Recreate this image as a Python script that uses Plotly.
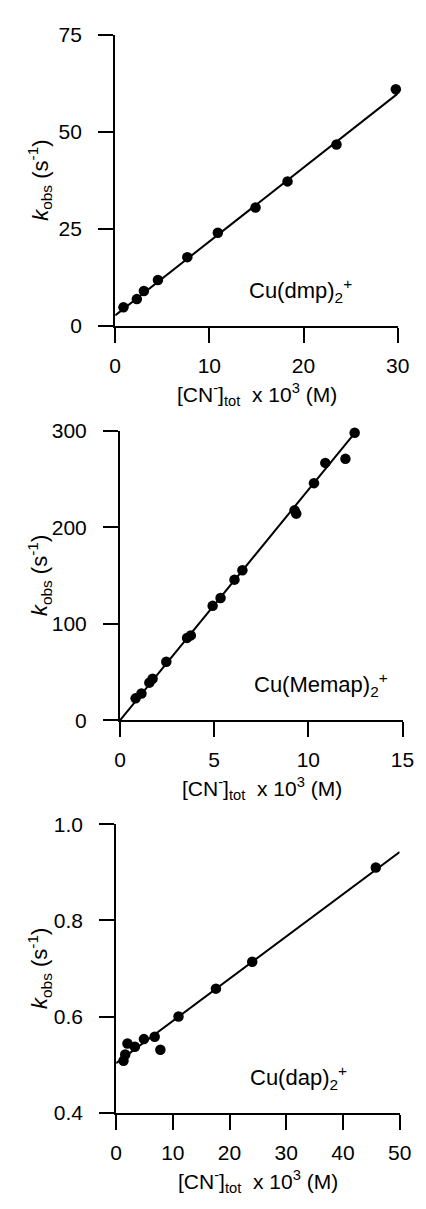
import plotly.graph_objects as go

W, H = 426, 1209

# ---- data: Cu(dmp)2+ ----
dmp_x = [0.88, 2.3, 3.05, 4.54, 7.66, 10.9, 14.9, 18.3, 23.5, 29.8]
dmp_y = [4.8, 6.9, 9.0, 11.8, 17.7, 24.0, 30.5, 37.2, 46.7, 60.9]
dmp_fit_x = [0, 30]
dmp_fit_y = [2.7, 59.8]

# ---- data: Cu(Memap)2+ ----
memap_x = [0.83, 1.14, 1.56, 1.73, 2.46, 3.56, 3.76, 4.92, 5.34, 6.08, 6.5,
           9.27, 9.36, 10.3, 10.9, 11.97, 12.46]
memap_y = [22.7, 27.8, 39.0, 43.0, 60.7, 85.4, 88.0, 118.6, 126.8, 145.8, 155.6,
           217.6, 214.2, 245.8, 266.8, 271.0, 298.0]
memap_fit_x = [0, 12.6]
memap_fit_y = [0, 301]

# ---- data: Cu(dap)2+ ----
dap_x = [1.3, 1.6, 2.0, 3.3, 4.9, 6.8, 7.8, 11.0, 17.6, 24.0, 45.8]
dap_y = [0.508, 0.521, 0.544, 0.537, 0.553, 0.558, 0.531, 0.600, 0.658, 0.714, 0.910]
dap_fit_x = [0, 50]
dap_fit_y = [0.503, 0.942]

# ---- axis settings ----
x_ranges = [[0, 30], [0, 15], [0, 50]]
y_ranges = [[0, 75], [0, 300], [0.4, 1.0]]
x_ticks = [[0, 10, 20, 30], [0, 5, 10, 15], [0, 10, 20, 30, 40, 50]]
y_ticks = [[0, 25, 50, 75], [0, 100, 200, 300], [0.4, 0.6, 0.8, 1.0]]
y_ticktext = [["0", "25", "50", "75"], ["0", "100", "200", "300"], ["0.4", "0.6", "0.8", "1.0"]]
labels = ["Cu(dmp)<sub>2</sub><sup>+</sup>", "Cu(Memap)<sub>2</sub><sup>+</sup>", "Cu(dap)<sub>2</sub><sup>+</sup>"]

# pixel layout of each panel: (x_left, x_right, y_top, y_bottom)
panels_px = [(114, 409, 23, 320), (119, 414, 427, 722), (115, 411, 828, 1122)]

FONT = "Liberation Sans, Arial, Helvetica, sans-serif"

fig = go.Figure()
series = [(dmp_x, dmp_y, dmp_fit_x, dmp_fit_y),
          (memap_x, memap_y, memap_fit_x, memap_fit_y),
          (dap_x, dap_y, dap_fit_x, dap_fit_y)]

layout = dict(
    width=W, height=H,
    margin=dict(l=0, r=0, t=0, b=0),
    paper_bgcolor="white", plot_bgcolor="white",
    showlegend=False,
    font=dict(family=FONT, size=21, color="black"),
)
annotations = []

for i, (sx, sy, fx, fy) in enumerate(series):
    n = "" if i == 0 else str(i + 1)
    xa, ya = "x" + n, "y" + n
    fig.add_trace(go.Scatter(x=fx, y=fy, mode="lines", xaxis=xa, yaxis=ya,
                             line=dict(color="black", width=2), hoverinfo="skip"))
    fig.add_trace(go.Scatter(x=sx, y=sy, mode="markers", xaxis=xa, yaxis=ya,
                             marker=dict(color="black", size=10.5), cliponaxis=False))
    xl, xr, yt, yb = panels_px[i]
    common = dict(showgrid=False, zeroline=False, showline=True, linecolor="black",
                  linewidth=2, ticks="outside", ticklen=15, tickwidth=2,
                  tickcolor="black", tickfont=dict(family=FONT, size=21, color="black"))
    layout["xaxis" + n] = dict(domain=[xl / W, xr / W], range=x_ranges[i],
                               tickvals=x_ticks[i], anchor=ya,
                               ticklabelstandoff=5, **common)
    layout["yaxis" + n] = dict(domain=[1 - yb / H, 1 - yt / H], range=y_ranges[i],
                               tickvals=y_ticks[i], ticktext=y_ticktext[i], anchor=xa,
                               ticklabelstandoff=12, **common)
    # y title
    annotations.append(dict(text="<i>k</i><sub>obs</sub> (s<sup>-1</sup>)",
                            x=35 / W, y=1 - ((yt + yb) / 2) / H, xref="paper", yref="paper",
                            textangle=-90, showarrow=False, xanchor="center", yanchor="middle",
                            font=dict(family=FONT, size=22, color="black")))
    # x title
    annotations.append(dict(text="[CN<sup>-</sup>]<sub>tot</sub>  x 10<sup>3</sup> (M)",
                            x=(xl + 148) / W, y=1 - (yb + 70) / H, xref="paper", yref="paper",
                            showarrow=False, xanchor="center", yanchor="middle",
                            font=dict(family=FONT, size=21, color="black")))
    # compound label
    annotations.append(dict(text=labels[i], x=(xl + 138) / W, y=1 - (yb - 36) / H,
                            xref="paper", yref="paper", showarrow=False,
                            xanchor="left", yanchor="middle",
                            font=dict(family=FONT, size=22, color="black")))

layout["annotations"] = annotations
fig.update_layout(**layout)
fig.write_html(
    "out.html",
    config={"displayModeBar": False, "responsive": False},
    post_script=(
        "document.documentElement.style.margin='0';"
        "document.documentElement.style.overflow='hidden';"
        "document.body.style.margin='0';"
        "document.body.style.padding='0';"
        "document.body.style.overflow='hidden';"
        "var gd=document.getElementById('{plot_id}');"
        "gd.style.display='block';"
        "if(gd.parentNode){gd.parentNode.style.display='block';gd.parentNode.style.lineHeight='0';}"
    ),
)
